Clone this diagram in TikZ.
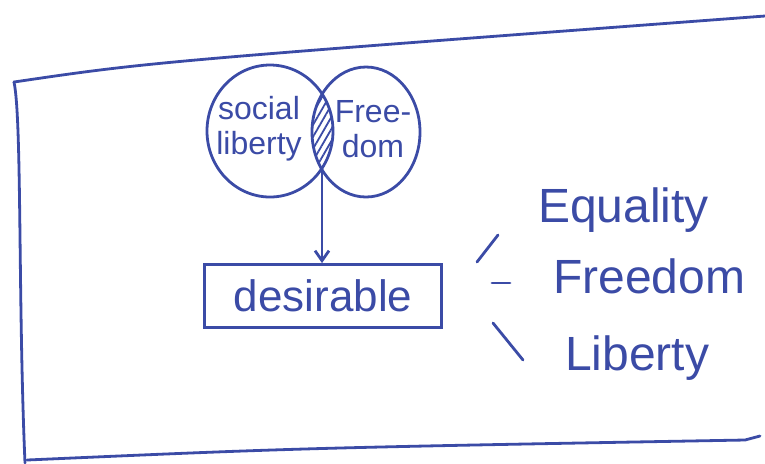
\documentclass[tikz,border=0pt]{standalone}
\usepackage{fontspec}
\setmainfont{Liberation Sans}
\usetikzlibrary{arrows.meta,positioning,patterns.meta,calc}
\definecolor{inkblue}{HTML}{3B4BA6}

\begin{document}
\begin{tikzpicture}[x=0.5pt, y=-0.5pt, line width=1.4pt, >={Straight Barb[length=5pt,width=7pt]},
    ink/.style={draw=inkblue, line cap=round},
    circtext/.style={text=inkblue, align=center, font=\fontsize{16}{17.5}\selectfont},
    listword/.style={text=inkblue, anchor=base west, font=\fontsize{24}{28}\selectfont}]
  \useasboundingbox (0,0) rectangle (765,463);
  % outer frame, open on the right
  \draw[ink] (14,82) .. controls (150,62) .. (765,16);
  \draw[ink] (14,82) .. controls (22,120) and (18,300) .. (25,463);
  \draw[ink] (27,460) .. controls (300,448) .. (745,440) -- (760,436);
  % the two sets and their overlap
  \begin{scope}
    \clip (270,131) ellipse [x radius=63, y radius=66];
    \fill[pattern={Lines[angle=60,distance=3pt,line width=0.9pt]}, pattern color=inkblue]
      (366,132) ellipse [x radius=54, y radius=65];
  \end{scope}
  \draw[ink] (270,131) ellipse [x radius=63, y radius=66];
  \draw[ink] (366,132) ellipse [x radius=54, y radius=65];
  \node[circtext] (social) at (259,129) {social\\liberty};
  \node[circtext] (free) at (373,129) {Free-\\dom};
  \coordinate (lens) at (322,169);
  % result box
  \node[ink, minimum width=118.5pt, minimum height=31.5pt, text=inkblue,
        font=\fontsize{22}{26}\selectfont] (desir) at (323,296) {desirable};
  \draw[ink, ->] (lens) -- (lens |- desir.north);
  % list on the right
  \node[listword] (eq) at (530,222) {Equality};
  \node[listword] (fr) at (545,293) {Freedom};
  \node[listword] (lib) at (557,370) {Liberty};
  \draw[ink] (477,262) -- (498,235);
  \draw[ink] (492,283) -- (510,283);
  \draw[ink] (493,323) -- (523,360);
\end{tikzpicture}
\end{document}
